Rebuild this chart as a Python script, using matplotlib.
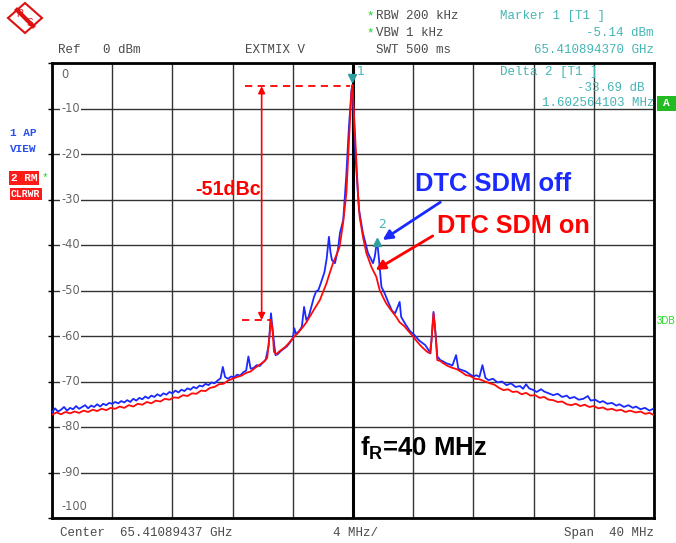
import matplotlib
matplotlib.use("Agg")
import numpy as np
import matplotlib.pyplot as plt
from matplotlib.patches import Polygon, Rectangle

# frequency offset from center (MHz) and level (dBm)
blue_f = [-20.0, -19.8, -19.6, -19.4, -19.2, -19.0, -18.8, -18.6, -18.4, -18.2,
          -18.0, -17.8, -17.6, -17.4, -17.2, -17.0, -16.8, -16.6, -16.4, -16.2,
          -16.0, -15.8, -15.6, -15.4, -15.2, -15.0, -14.8, -14.6, -14.4, -14.2,
          -14.0, -13.8, -13.6, -13.4, -13.2, -13.0, -12.8, -12.6, -12.4, -12.2,
          -12.0, -11.8, -11.6, -11.4, -11.2, -11.0, -10.8, -10.6, -10.4, -10.2,
          -10.0, -9.8, -9.6, -9.4, -9.2, -9.0, -8.8, -8.65, -8.5, -8.3,
          -8.1, -7.9, -7.7, -7.5, -7.3, -7.1, -6.95, -6.8, -6.6, -6.4,
          -6.2, -6.0, -5.8, -5.6, -5.45, -5.3, -5.15, -5.0, -4.8, -4.6,
          -4.4, -4.2, -4.0, -3.9, -3.8, -3.6, -3.4, -3.25, -3.1, -2.95,
          -2.8, -2.6, -2.45, -2.3, -2.15, -1.9, -1.75, -1.6, -1.5, -1.4,
          -1.2, -1.0, -0.87, -0.65, -0.45, -0.27, -0.1, -0.04, 0.18, 0.4,
          0.66, 1.0, 1.33, 1.45, 1.6, 1.73, 1.89, 2.1, 2.37, 2.6,
          2.8, 3.1, 3.2, 3.5, 3.8, 4.0, 4.4, 4.8, 5.0, 5.15,
          5.35, 5.5, 5.6, 5.8, 6.0, 6.2, 6.4, 6.6, 6.85, 7.0,
          7.5, 7.8, 8.0, 8.2, 8.4, 8.6, 8.8, 9.0, 9.3, 9.6,
          9.9, 10.2, 10.5, 10.8, 11.1, 11.3, 11.5, 11.7, 12.0, 12.2,
          12.5, 12.7, 13.0, 13.3, 13.6, 13.9, 14.2, 14.4, 14.7, 15.0,
          15.3, 15.6, 15.8, 16.1, 16.4, 16.6, 16.9, 17.2, 17.5, 17.7,
          18.0, 18.3, 18.6, 18.8, 19.1, 19.4, 19.7, 20.0]
blue_db = [-76.8, -75.9, -76.6, -76.2, -75.6, -76.4, -75.8, -76.1, -75.4, -76.0,
           -75.6, -75.2, -75.9, -75.3, -75.6, -75.0, -75.5, -74.9, -75.2, -74.7,
           -74.9, -74.5, -74.8, -74.3, -74.6, -74.1, -74.5, -73.8, -74.2, -73.6,
           -73.9, -73.3, -73.7, -73.1, -73.4, -72.8, -73.2, -72.6, -72.9, -72.3,
           -72.6, -72.0, -72.4, -71.8, -72.1, -71.5, -71.8, -71.2, -71.5, -70.9,
           -71.1, -70.5, -70.8, -70.2, -70.4, -69.8, -69.3, -66.8, -69.0, -69.4,
           -68.9, -69.1, -68.5, -68.7, -68.0, -67.6, -64.5, -67.2, -67.0, -66.4,
           -66.6, -65.9, -65.2, -62.0, -55.0, -60.0, -64.2, -64.0, -63.3, -62.8,
           -62.3, -61.5, -60.5, -58.3, -59.5, -59.0, -58.0, -53.6, -56.5, -55.8,
           -54.0, -51.5, -50.2, -49.9, -48.5, -46.0, -43.0, -38.2, -41.5, -43.3,
           -44.0, -41.0, -37.4, -34.5, -25.0, -14.0, -5.9, -5.0, -21.3, -32.3,
           -37.4, -41.8, -44.0, -42.5, -38.9, -43.3, -49.2, -50.6, -52.8, -54.5,
           -55.0, -52.5, -55.8, -57.5, -59.0, -59.5, -61.0, -62.0, -63.0, -63.8,
           -54.7, -60.0, -64.5, -65.3, -65.6, -66.0, -66.2, -66.5, -64.2, -67.2,
           -67.8, -68.5, -68.9, -68.6, -69.0, -66.4, -69.2, -69.7, -69.4, -70.2,
           -70.0, -70.8, -70.4, -71.2, -71.0, -71.6, -70.6, -71.5, -71.9, -72.3,
           -71.7, -72.2, -72.6, -73.0, -72.7, -73.4, -73.1, -73.7, -73.4, -74.0,
           -73.8, -73.2, -74.2, -74.0, -74.6, -74.3, -74.9, -74.7, -75.3, -75.0,
           -75.6, -75.2, -75.8, -75.5, -76.1, -75.8, -76.4, -75.9]

red_f = [-20.0, -19.7, -19.4, -19.1, -18.8, -18.5, -18.2, -17.9, -17.6, -17.3,
         -17.0, -16.7, -16.4, -16.1, -15.8, -15.5, -15.2, -14.9, -14.6, -14.3,
         -14.0, -13.7, -13.4, -13.1, -12.8, -12.5, -12.2, -11.9, -11.6, -11.3,
         -11.0, -10.7, -10.4, -10.1, -9.8, -9.5, -9.2, -8.9, -8.6, -8.3,
         -8.0, -7.7, -7.4, -7.1, -6.8, -6.5, -6.2, -5.9, -5.7, -5.55,
         -5.45, -5.35, -5.25, -5.1, -4.9, -4.7, -4.5, -4.3, -4.1, -3.9,
         -3.7, -3.5, -3.3, -3.1, -2.9, -2.7, -2.5, -2.2, -2.0, -1.76,
         -1.55, -1.33, -1.1, -0.89, -0.66, -0.44, -0.33, -0.22, -0.11, -0.04,
         0.11, 0.22, 0.33, 0.44, 0.66, 0.89, 1.22, 1.55, 1.77, 2.0,
         2.2, 2.5, 2.87, 3.1, 3.4, 3.7, 3.97, 4.2, 4.46, 4.7,
         4.9, 5.1, 5.22, 5.35, 5.48, 5.6, 5.8, 6.0, 6.3, 6.6,
         6.9, 7.2, 7.5, 7.8, 8.1, 8.4, 8.7, 9.1, 9.4, 9.7,
         10.0, 10.3, 10.6, 10.9, 11.2, 11.5, 11.8, 12.1, 12.4, 12.7,
         13.0, 13.3, 13.6, 13.9, 14.2, 14.5, 14.8, 15.1, 15.4, 15.7,
         16.0, 16.3, 16.6, 16.9, 17.2, 17.5, 17.8, 18.1, 18.4, 18.8,
         19.1, 19.4, 19.7, 20.0]
red_db = [-77.3, -76.8, -77.2, -76.7, -77.0, -76.6, -76.9, -76.4, -76.7, -76.2,
          -76.5, -76.0, -76.3, -75.8, -76.0, -75.5, -75.8, -75.2, -75.5, -74.9,
          -75.1, -74.5, -74.8, -74.2, -74.4, -73.8, -74.0, -73.5, -73.6, -73.0,
          -73.2, -72.6, -72.7, -72.0, -72.1, -71.4, -71.2, -70.6, -70.5, -69.8,
          -69.4, -69.0, -68.7, -68.1, -67.8, -67.0, -66.3, -65.6, -64.8, -60.0,
          -56.5, -58.5, -63.5, -64.0, -63.4, -62.9, -62.4, -61.7, -60.9, -60.1,
          -59.5, -58.7, -57.9, -57.0, -55.9, -54.8, -53.7, -52.1, -50.4, -48.4,
          -46.2, -44.0, -42.2, -40.4, -35.2, -28.6, -21.3, -14.0, -6.7, -4.8,
          -14.0, -21.3, -28.6, -33.8, -38.2, -41.8, -44.8, -47.0, -49.9, -51.5,
          -52.8, -54.2, -55.8, -57.0, -57.8, -59.0, -60.0, -61.0, -62.0, -62.8,
          -63.4, -63.8, -61.0, -55.0, -59.5, -65.3, -65.5, -66.0, -66.6, -67.0,
          -67.3, -67.9, -68.6, -68.8, -69.4, -69.5, -69.9, -70.4, -70.7, -71.4,
          -71.9, -71.7, -72.3, -72.2, -72.8, -72.5, -73.1, -73.0, -73.6, -73.4,
          -74.0, -74.1, -74.5, -74.4, -75.0, -75.2, -74.9, -75.4, -75.1, -75.6,
          -75.4, -75.9, -75.7, -76.2, -76.0, -76.4, -76.2, -76.7, -76.4, -76.8,
          -76.6, -77.1, -76.9, -77.4]

y_ticks = [0, -10, -20, -30, -40, -50, -60, -70, -80, -90, -100]
x_grid = [-20, -16, -12, -8, -4, 0, 4, 8, 12, 16, 20]

carrier_db = -5.1
spur_db = -56.5

W, H = 676, 543
TEAL = "#45b5b5"
GRAY = "#4a4a4a"
MONO = "Liberation Mono"
SANS = "Liberation Sans"
FS = 9

plt.rcParams["mathtext.fontset"] = "custom"
plt.rcParams["mathtext.rm"] = "Liberation Sans"
plt.rcParams["mathtext.bf"] = "Liberation Sans:bold"

fig = plt.figure(figsize=(W / 100, H / 100), dpi=100)
ax = fig.add_axes([52 / W, 1 - 518 / H, 602 / W, 455 / H])


def fx(x):
    return x / W


def fy(y):
    return 1 - y / H


ax.plot(blue_f, blue_db, color="#1a2aff", lw=1.3, zorder=3)
ax.plot(red_f, red_db, color="#ff0a0a", lw=1.3, zorder=4)

ax.set_xlim(-20, 20)
ax.set_ylim(-100, 0)
ax.set_xticks(x_grid)
ax.set_yticks(y_ticks)
ax.grid(True, color="#333333", lw=1.0, zorder=1)
ax.axvline(0, color="black", lw=2.2, zorder=2)
ax.tick_params(labelbottom=False, labelleft=False, bottom=False, left=True,
               length=3, width=1, direction="out")
for s in ax.spines.values():
    s.set_linewidth(2)

# y labels sit inside the grid
for v in y_ticks:
    if v == 0:
        ax.text(-19.4, v - 1.2, "0", ha="left", va="top", fontsize=8.3, color="#666666", zorder=5)
    elif v == -100:
        ax.text(-19.4, v + 1.0, "-100", ha="left", va="bottom", fontsize=8.3, color="#666666", zorder=5)
    else:
        ax.text(-19.4, v, str(v), ha="left", va="center", fontsize=8.3, color="#666666", zorder=5,
                bbox=dict(boxstyle="square,pad=0.1", fc="white", ec="none"))

# markers
ax.plot(-0.04, -3.4, marker="v", color="#2f9f9f", ms=6, zorder=6, clip_on=False)
ax.text(0.25, -1.9, "1", color=TEAL, fontsize=9, ha="left", va="center", zorder=6)
ax.plot(1.6, -39.3, marker="^", color="#2f9f9f", ms=6, zorder=6)
ax.text(1.9, -35.6, "2", color=TEAL, fontsize=9, ha="center", va="center", zorder=6)

# -51dBc annotation
ax.plot([-7.2, -0.2], [carrier_db, carrier_db], color="red", lw=1.3, ls=(0, (4, 3)), zorder=5)
ax.plot([-7.35, -5.45], [spur_db, spur_db], color="red", lw=1.3, ls=(0, (4, 3)), zorder=5)
ax.annotate("", xy=(-6.07, carrier_db), xytext=(-6.07, spur_db),
            arrowprops=dict(arrowstyle="<|-|>", color="red", lw=1.2, mutation_scale=10,
                            shrinkA=0, shrinkB=0), zorder=5)
ax.text(-8.3, -27.9, "-51dBc", color="red", fontsize=14.2, fontweight="bold",
        family=SANS, ha="center", va="center", zorder=6)

ax.text(4.1, -26.6, "DTC SDM off", color="#1a2aff", fontsize=18.4, fontweight="bold",
        family=SANS, ha="left", va="center", zorder=6)
ax.text(5.55, -35.8, "DTC SDM on", color="red", fontsize=18.2, fontweight="bold",
        family=SANS, ha="left", va="center", zorder=6)
ax.annotate("", xy=(1.97, -38.9), xytext=(5.8, -30.6),
            arrowprops=dict(arrowstyle="-|>", color="#1a2aff", lw=2, mutation_scale=14,
                            shrinkA=0, shrinkB=0), zorder=6)
ax.annotate("", xy=(1.5, -45.5), xytext=(5.3, -38.0),
            arrowprops=dict(arrowstyle="-|>", color="red", lw=2, mutation_scale=14,
                            shrinkA=0, shrinkB=0), zorder=6)

ax.text(0.45, -84.6, r"f$_\mathbf{R}$=40 MHz", color="black", fontsize=18.5,
        fontweight="bold", family=SANS, ha="left", va="center", zorder=6)

# marker readout inside the grid
ax.text(9.8, -1.9, "Delta 2 [T1 ]", color=TEAL, fontsize=FS, family=MONO, ha="left", va="center", zorder=6)
ax.text(19.4, -5.5, "-33.69 dB", color=TEAL, fontsize=FS, family=MONO, ha="right", va="center", zorder=6)
ax.text(20.0, -8.8, "1.602564103 MHz", color=TEAL, fontsize=FS, family=MONO, ha="right", va="center", zorder=6)

# header
fig.text(fx(58), fy(50), "Ref   0 dBm", color=GRAY, fontsize=FS, family=MONO, va="center")
fig.text(fx(245), fy(50), "EXTMIX V", color=GRAY, fontsize=FS, family=MONO, va="center")
fig.text(fx(366), fy(16), "*", color="#22cc22", fontsize=FS, family=MONO, va="center")
fig.text(fx(376), fy(16), "RBW 200 kHz", color=GRAY, fontsize=FS, family=MONO, va="center")
fig.text(fx(366), fy(33), "*", color="#22cc22", fontsize=FS, family=MONO, va="center")
fig.text(fx(376), fy(33), "VBW 1 kHz", color=GRAY, fontsize=FS, family=MONO, va="center")
fig.text(fx(376), fy(50), "SWT 500 ms", color=GRAY, fontsize=FS, family=MONO, va="center")
fig.text(fx(500), fy(16), "Marker 1 [T1 ]", color=TEAL, fontsize=FS, family=MONO, va="center")
fig.text(fx(654), fy(33), "-5.14 dBm", color=TEAL, fontsize=FS, family=MONO, va="center", ha="right")
fig.text(fx(654), fy(50), "65.410894370 GHz", color=TEAL, fontsize=FS, family=MONO, va="center", ha="right")

# footer
fig.text(fx(60), fy(533), "Center  65.41089437 GHz", color=GRAY, fontsize=FS, family=MONO, va="center")
fig.text(fx(333), fy(533), "4 MHz/", color=GRAY, fontsize=FS, family=MONO, va="center")
fig.text(fx(654), fy(533), "Span  40 MHz", color=GRAY, fontsize=FS, family=MONO, va="center", ha="right")

# left trace labels
fig.text(fx(10), fy(133), "1 AP", color="#2a50ee", fontsize=8, family=MONO, fontweight="bold", va="center")
fig.text(fx(10), fy(149), "VIEW", color="#2a50ee", fontsize=8, family=MONO, fontweight="bold", va="center")
fig.text(fx(11), fy(178), "2 RM", color="white", fontsize=8, family=MONO, fontweight="bold", va="center",
         bbox=dict(boxstyle="square,pad=0.15", fc="#ff1a1a", ec="none"))
fig.text(fx(42), fy(177), "*", color="#22cc22", fontsize=8, family=MONO, va="center")
fig.text(fx(11), fy(194), "CLRWR", color="white", fontsize=7, family=MONO, fontweight="bold", va="center",
         bbox=dict(boxstyle="square,pad=0.15", fc="#ff1a1a", ec="none"))
fig.text(fx(657), fy(321), "3DB", color="#22dd22", fontsize=7, family=SANS, va="center")

# green "A" box
fig.add_artist(Rectangle((fx(657), fy(111)), 19 / W, 15 / H, transform=fig.transFigure,
                         fc="#22bb22", ec="none"))
fig.text(fx(666), fy(103), "A", color="white", fontsize=8, family=MONO, fontweight="bold",
         ha="center", va="center")

# R&S logo
logo = [(fx(8), fy(18)), (fx(25), fy(3)), (fx(42), fy(18)), (fx(25), fy(33))]
fig.add_artist(Polygon(logo, closed=True, transform=fig.transFigure, fc="white", ec="#dd1111", lw=1.5))
fig.add_artist(plt.Line2D([fx(17), fx(33)], [fy(10), fy(26)], transform=fig.transFigure,
                          color="#dd1111", lw=3))
fig.text(fx(20), fy(14), "R", color="#dd1111", fontsize=7, family=SANS, ha="center", va="center")
fig.text(fx(30), fy(23), "S", color="#dd1111", fontsize=7, family=SANS, ha="center", va="center")

fig.savefig("out.png", dpi=100)
